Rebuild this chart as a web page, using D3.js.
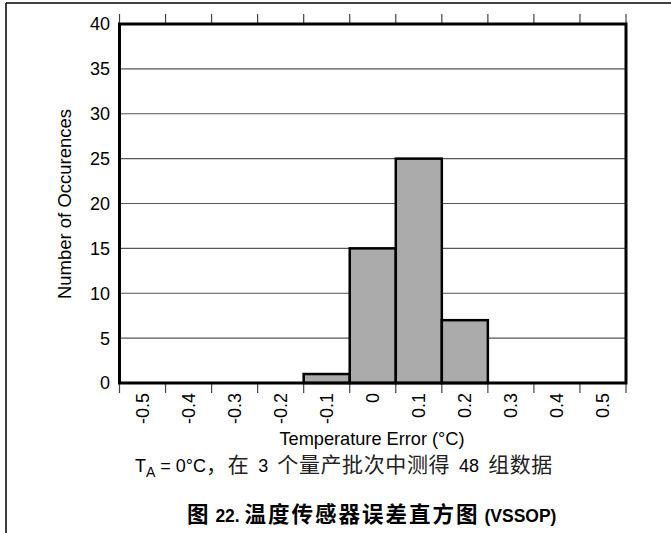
<!DOCTYPE html>
<html>
<head>
<meta charset="utf-8">
<script src="https://cdn.jsdelivr.net/npm/d3@7"></script>
<style>
  html, body { margin: 0; padding: 0; background: #fff; }
  svg { display: block; }
  text { font-family: "Liberation Sans", Arial, "Noto Sans CJK SC", sans-serif; fill: #000; }
  .han { font-family: "Noto Sans CJK SC", sans-serif; }
</style>
</head>
<body>
<svg id="chart" width="671" height="533"></svg>
<script>
// Histogram bins (temperature error, °C) and how many parts fell in each
const binLabels = ["-0.5", "-0.4", "-0.3", "-0.2", "-0.1", "0", "0.1", "0.2", "0.3", "0.4", "0.5"];
const counts    = [0, 0, 0, 0, 1, 15, 25, 7, 0, 0, 0];
const yTicks    = [0, 5, 10, 15, 20, 25, 30, 35, 40];

const xTitle = "Temperature Error (°C)";
const yTitle = "Number of Occurences";
const conditionTemp = " = 0°C";
const conditionText = "，在 3 个量产批次中测得 48 组数据";
const captionText = "图 22. 温度传感器误差直方图 (VSSOP)";

const svg = d3.select("#chart");

const plot = { left: 119.5, right: 626, top: 24, bottom: 383 };

const x = d3.scaleBand().domain(binLabels).range([plot.left, plot.right]).padding(0);
const y = d3.scaleLinear().domain([0, 40]).range([plot.bottom, plot.top]);

// outer frame: top and left rules
svg.append("line").attr("x1", 6).attr("x2", 671).attr("y1", 3).attr("y2", 3)
  .attr("stroke", "#000").attr("stroke-width", 1.5);
svg.append("line").attr("x1", 6).attr("x2", 6).attr("y1", 3).attr("y2", 533)
  .attr("stroke", "#000").attr("stroke-width", 1.5);

// horizontal gridlines
svg.append("g").selectAll("line")
  .data(yTicks.filter(d => d > 0 && d < 40))
  .join("line")
  .attr("x1", plot.left).attr("x2", plot.right)
  .attr("y1", d => y(d)).attr("y2", d => y(d))
  .attr("stroke", "#555").attr("stroke-width", 1.2);

// bin edge tick marks above and below the plot
const edges = binLabels.map(b => x(b)).concat([x(binLabels[binLabels.length - 1]) + x.bandwidth()]);
const tickG = svg.append("g").attr("stroke", "#444").attr("stroke-width", 1.2);
tickG.selectAll("line.top").data(edges).join("line").attr("class", "top")
  .attr("x1", d => d).attr("x2", d => d).attr("y1", plot.top - 10).attr("y2", plot.top);
tickG.selectAll("line.bot").data(edges).join("line").attr("class", "bot")
  .attr("x1", d => d).attr("x2", d => d).attr("y1", plot.bottom).attr("y2", plot.bottom + 10);

// histogram bars
svg.append("g").selectAll("rect")
  .data(binLabels.map((b, i) => ({ b, v: counts[i] })).filter(d => d.v > 0))
  .join("rect")
  .attr("x", d => x(d.b))
  .attr("width", x.bandwidth())
  .attr("y", d => y(d.v))
  .attr("height", d => y(0) - y(d.v))
  .attr("fill", "#ababab")
  .attr("stroke", "#000")
  .attr("stroke-width", 2.5);

// plot frame
svg.append("rect")
  .attr("x", plot.left).attr("y", plot.top)
  .attr("width", plot.right - plot.left).attr("height", plot.bottom - plot.top)
  .attr("fill", "none").attr("stroke", "#000").attr("stroke-width", 3);

// y tick labels
svg.append("g").selectAll("text")
  .data(yTicks).join("text")
  .attr("x", 110).attr("y", d => y(d)).attr("dy", "0.36em")
  .attr("text-anchor", "end").attr("font-size", 18)
  .text(d => d);

// x tick labels, rotated, centred in each bin
svg.append("g").selectAll("text")
  .data(binLabels).join("text")
  .attr("transform", d => `translate(${x(d) + x.bandwidth() / 2},${plot.bottom + 10}) rotate(-90)`)
  .attr("text-anchor", "end").attr("dy", "0.36em").attr("font-size", 18)
  .text(d => d);

// axis titles
svg.append("text")
  .attr("transform", "translate(71,204) rotate(-90)")
  .attr("text-anchor", "middle").attr("font-size", 18.5)
  .text(yTitle);

svg.append("text")
  .attr("x", 372).attr("y", 445)
  .attr("text-anchor", "middle").attr("font-size", 18.2)
  .text(xTitle);

// append mixed Latin / Han text: Han runs get their own face, size and spacing
const hanRe = /([\u3000-\u303f\u4e00-\u9fff\uff00-\uffef]+)/;
function appendMixed(sel, str, hanSize, spacing) {
  str.split(hanRe).filter(s => s.length).forEach(s => {
    const t = sel.append("tspan").text(s);
    if (hanRe.test(s)) t.attr("class", "han").attr("font-size", hanSize).attr("letter-spacing", spacing);
  });
}

// test conditions line
const cond = svg.append("text").attr("x", 135).attr("y", 472).attr("font-size", 18);
cond.append("tspan").text("T");
cond.append("tspan").attr("dy", 5).attr("font-size", 14).text("A");
cond.append("tspan").attr("dy", -5).text(conditionTemp);
const condRest = cond.append("tspan").attr("word-spacing", 4);
appendMixed(condRest, conditionText, 21, 0.6);
condRest.selectAll("tspan.han").attr("fill", "#222");

// figure caption
const cap = svg.append("text").attr("x", 187).attr("y", 522)
  .attr("font-size", 17.5).attr("font-weight", "bold");
appendMixed(cap, captionText, 21.5, 2);
</script>
</body>
</html>
